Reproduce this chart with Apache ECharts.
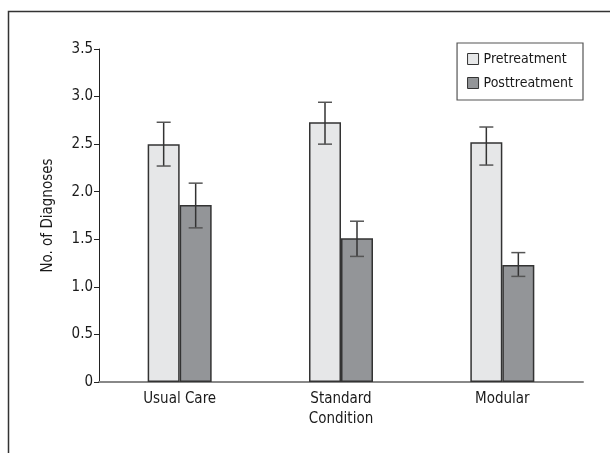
<!DOCTYPE html>
<html>
<head>
<meta charset="utf-8">
<script src="https://cdn.jsdelivr.net/npm/echarts@6/dist/echarts.min.js"></script>
<style>
html,body{margin:0;padding:0;background:#fff;}
#c{width:610px;height:453px;}
</style>
</head>
<body>
<div id="c"></div>
<script>
var categories = ['Usual Care', 'Standard\nCondition', 'Modular'];
var preMeans = [2.50, 2.73, 2.52];
var preLow = [2.27, 2.50, 2.28];
var preHigh = [2.73, 2.94, 2.68];
var postMeans = [1.86, 1.51, 1.23];
var postLow = [1.62, 1.32, 1.11];
var postHigh = [2.09, 1.69, 1.36];
var yTicks = ['0', '0.5', '1.0', '1.5', '2.0', '2.5', '3.0', '3.5'];

var FONT = '"DejaVu Sans Condensed", "Liberation Sans Narrow", "Roboto", sans-serif';
var BAR_W = 32;

function errData(low, high) {
  return categories.map(function (c, i) { return [i, low[i], high[i]]; });
}
function errRender(offset) {
  return function (params, api) {
    var x = api.value(0);
    var lo = api.coord([x, api.value(1)]);
    var hi = api.coord([x, api.value(2)]);
    var cx = lo[0] + offset;
    var cap = 7;
    return {
      type: 'group',
      children: [
        { type: 'line', shape: { x1: cx, y1: hi[1], x2: cx, y2: lo[1] }, style: { stroke: '#333', lineWidth: 1.5 } },
        { type: 'line', shape: { x1: cx - cap, y1: hi[1], x2: cx + cap, y2: hi[1] }, style: { stroke: '#555', lineWidth: 1.5 } },
        { type: 'line', shape: { x1: cx - cap, y1: lo[1], x2: cx + cap, y2: lo[1] }, style: { stroke: '#555', lineWidth: 1.5 } }
      ]
    };
  };
}

var chart = echarts.init(document.getElementById('c'), null, { renderer: 'canvas' });
chart.setOption({
  animation: false,
  backgroundColor: '#fff',
  textStyle: { fontFamily: FONT },
  grid: { left: 99, right: 27, top: 49, bottom: 71, containLabel: false },
  legend: {
    orient: 'vertical',
    right: 27, top: 43,
    icon: 'rect',
    itemWidth: 11, itemHeight: 11, itemGap: 10,
    padding: [9, 10, 10, 10],
    borderColor: '#555', borderWidth: 1.2,
    textStyle: { fontFamily: FONT, fontSize: 14, color: '#1a1a1a' },
    data: [
      { name: 'Pretreatment', itemStyle: { color: '#e6e7e8', borderColor: '#333', borderWidth: 1 } },
      { name: 'Posttreatment', itemStyle: { color: '#939598', borderColor: '#333', borderWidth: 1 } }
    ]
  },
  xAxis: {
    type: 'category',
    data: categories,
    axisLine: { lineStyle: { color: '#888', width: 2 } },
    axisTick: { show: false },
    axisLabel: { fontFamily: FONT, fontSize: 15, color: '#1a1a1a', margin: 7, lineHeight: 20 },
    splitLine: { show: false }
  },
  yAxis: {
    type: 'value',
    min: 0, max: 3.5, interval: 0.5,
    name: 'No. of Diagnoses',
    nameLocation: 'middle',
    nameGap: 43,
    nameTextStyle: { fontFamily: FONT, fontSize: 15, color: '#1a1a1a' },
    axisLine: { show: true, lineStyle: { color: '#222', width: 1 } },
    axisTick: { show: true, length: 5, lineStyle: { color: '#222' } },
    axisLabel: {
      fontFamily: FONT, fontSize: 15, color: '#1a1a1a', margin: 6,
      formatter: function (v) { return yTicks[Math.round(v / 0.5)]; }
    },
    splitLine: { show: false }
  },
  series: [
    {
      name: 'Pretreatment', type: 'bar', data: preMeans, barWidth: BAR_W, barGap: '0%',
      itemStyle: { color: '#e6e7e8', borderColor: '#333', borderWidth: 1.5 }
    },
    {
      name: 'Posttreatment', type: 'bar', data: postMeans, barWidth: BAR_W, barGap: '0%',
      itemStyle: { color: '#939598', borderColor: '#333', borderWidth: 1.5 }
    },
    {
      type: 'custom', name: 'preErr', data: errData(preLow, preHigh),
      renderItem: errRender(-BAR_W / 2), encode: { x: 0, y: [1, 2] }, z: 10, silent: true
    },
    {
      type: 'custom', name: 'postErr', data: errData(postLow, postHigh),
      renderItem: errRender(BAR_W / 2), encode: { x: 0, y: [1, 2] }, z: 10, silent: true
    }
  ],
  graphic: [
    {
      type: 'polyline',
      shape: { points: [[8.5, 453], [8.5, 11.5], [610, 11.5]] },
      style: { stroke: '#333', lineWidth: 1.5, fill: null },
      silent: true
    }
  ]
});
</script>
</body>
</html>
